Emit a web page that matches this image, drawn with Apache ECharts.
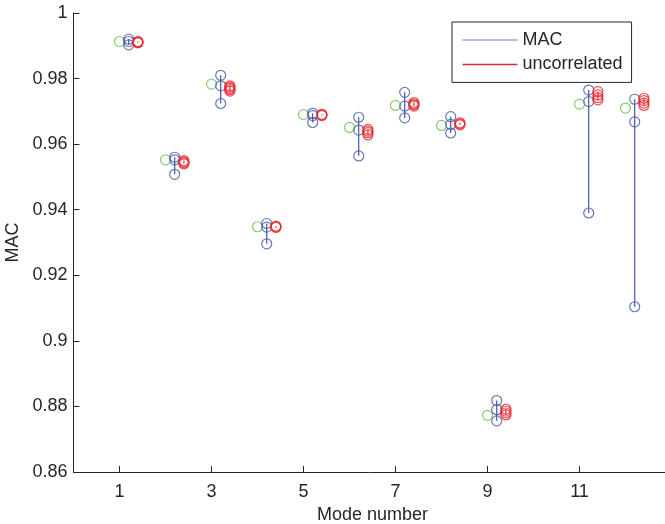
<!DOCTYPE html>
<html>
<head>
<meta charset="utf-8">
<script src="https://cdn.jsdelivr.net/npm/echarts@6/dist/echarts.min.js"></script>
<style>
html,body{margin:0;padding:0;background:#fff;}
#chart{width:665px;height:524px;}
</style>
</head>
<body>
<div id="chart"></div>
<script>
// ---- data ----
const modes = [1, 2, 3, 4, 5, 6, 7, 8, 9, 11, 12];
const xTickValues = [1, 3, 5, 7, 9, 11];
const yTicks = { min: 0.86, max: 1, step: 0.02 };
// reference MAC (green circles)
const macReference = [0.9913, 0.9552, 0.9783, 0.9348, 0.9690, 0.9651, 0.9718, 0.9657, 0.8773, 0.9722, 0.9710];
// MAC samples (blue circles)
const macSamples = [
  [0.9920, 0.9913, 0.9903],
  [0.9560, 0.9552, 0.9508],
  [0.9810, 0.9778, 0.9724],
  [0.9358, 0.9347, 0.9296],
  [0.9694, 0.9687, 0.9666],
  [0.9682, 0.9643, 0.9564],
  [0.9758, 0.9716, 0.9680],
  [0.9684, 0.9660, 0.9634],
  [0.8818, 0.8790, 0.8756],
  [0.9765, 0.9730, 0.9390],
  [0.9737, 0.9668, 0.9104]
];
// uncorrelated samples (red circles)
const uncorrelatedSamples = [
  [0.9913, 0.9912, 0.9910, 0.9909],
  [0.9550, 0.9546, 0.9543, 0.9540],
  [0.9778, 0.9774, 0.9770, 0.9766, 0.9762],
  [0.9350, 0.9348, 0.9346],
  [0.9691, 0.9689, 0.9687],
  [0.9645, 0.9640, 0.9635, 0.9628],
  [0.9727, 0.9723, 0.9720, 0.9716],
  [0.9665, 0.9662, 0.9659],
  [0.8792, 0.8786, 0.8780, 0.8774],
  [0.9760, 0.9750, 0.9742, 0.9735],
  [0.9740, 0.9733, 0.9725, 0.9718]
];

// ---- styling ----
const FONT = 'Liberation Sans, Arial, Helvetica, sans-serif';
const AX = '#262626';
const BLUE = '#4357AC';
const RED = '#E8262B';
const GREEN = '#6CBF4A';
const OFF_BLUE = 0.2, OFF_RED = 0.4;

function points(samples, off) {
  const out = [];
  modes.forEach((m, i) => samples[i].forEach(v => out.push([m + off, v])));
  return out;
}
function ranges(samples, off) {
  return modes.map((m, i) => [m + off, Math.min(...samples[i]), Math.max(...samples[i])]);
}
function vline(color) {
  return function (params, api) {
    const x = api.value(0);
    const p1 = api.coord([x, api.value(1)]);
    const p2 = api.coord([x, api.value(2)]);
    return { type: 'line', shape: { x1: p1[0], y1: p1[1], x2: p2[0], y2: p2[1] },
             style: { stroke: color, lineWidth: 1.2 } };
  };
}
const ring = (c) => ({ color: 'rgba(0,0,0,0)', borderColor: c, borderWidth: 1.2 });

const chart = echarts.init(document.getElementById('chart'), null, { renderer: 'canvas' });
chart.setOption({
  animation: false,
  backgroundColor: '#fff',
  textStyle: { fontFamily: FONT },
  grid: { left: 73.5, top: 13, width: 598, bottom: 52, containLabel: false, outerBoundsMode: 'none' },
  legend: {
    orient: 'vertical', left: 452, top: 22,
    padding: [9, 9, 9, 10.5], itemGap: 6.4,
    itemWidth: 55, itemHeight: 1.5,
    borderColor: AX, borderWidth: 1, backgroundColor: '#fff',
    textStyle: { fontSize: 18, color: AX, fontFamily: FONT },
    data: [
      { name: 'MAC', icon: 'rect', itemStyle: { color: '#94A5D8' } },
      { name: 'uncorrelated', icon: 'rect', itemStyle: { color: '#D9282B' } }
    ]
  },
  xAxis: {
    type: 'value', min: 0, max: 13,
    name: 'Mode number', nameLocation: 'middle', nameGap: 30,
    nameTextStyle: { fontSize: 18, color: AX, fontFamily: FONT },
    axisLine: { lineStyle: { color: AX, width: 1 } },
    axisTick: { inside: true, length: 6, lineStyle: { color: AX }, customValues: xTickValues },
    axisLabel: { fontSize: 18, color: AX, margin: 11, fontFamily: FONT, customValues: xTickValues },
    splitLine: { show: false }
  },
  yAxis: {
    type: 'value', min: yTicks.min, max: yTicks.max, interval: yTicks.step,
    name: 'MAC', nameLocation: 'middle', nameGap: 42,
    nameTextStyle: { fontSize: 18, color: AX, fontFamily: FONT },
    axisLine: { show: true, lineStyle: { color: AX, width: 1 } },
    axisTick: { show: true, inside: true, length: 6, lineStyle: { color: AX } },
    axisLabel: { fontSize: 18, color: AX, margin: 6, fontFamily: FONT },
    splitLine: { show: false }
  },
  series: [
    { name: 'MAC', type: 'custom', renderItem: vline(BLUE), data: ranges(macSamples, OFF_BLUE),
      encode: { x: 0, y: [1, 2] }, itemStyle: { color: BLUE }, z: 2 },
    { name: 'uncorrelated', type: 'custom', renderItem: vline(RED), data: ranges(uncorrelatedSamples, OFF_RED),
      encode: { x: 0, y: [1, 2] }, itemStyle: { color: RED }, z: 2 },
    { name: 'reference', type: 'scatter', symbol: 'circle', symbolSize: 10,
      itemStyle: ring(GREEN), data: modes.map((m, i) => [m, macReference[i]]), z: 3 },
    { name: 'macPts', type: 'scatter', symbol: 'circle', symbolSize: 10,
      itemStyle: ring(BLUE), data: points(macSamples, OFF_BLUE), z: 3 },
    { name: 'uncPts', type: 'scatter', symbol: 'circle', symbolSize: 10,
      itemStyle: ring(RED), data: points(uncorrelatedSamples, OFF_RED), z: 3 }
  ]
});
</script>
</body>
</html>
